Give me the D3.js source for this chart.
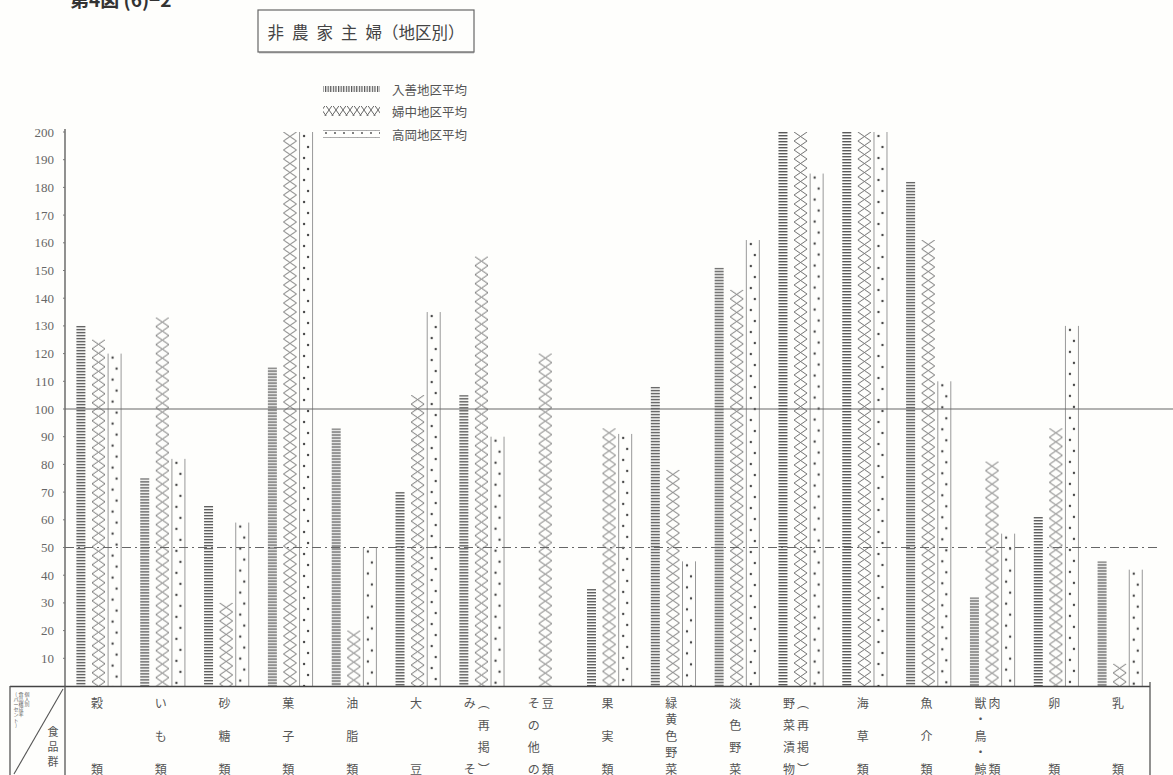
<!DOCTYPE html>
<html><head><meta charset="utf-8">
<script src="https://cdn.jsdelivr.net/npm/d3@7/dist/d3.min.js"></script>
<style>
html,body{margin:0;padding:0;background:#fefefc;}
svg{display:block;}
</style></head>
<body>
<svg id="chart" width="1173" height="775"></svg>
<script>
// ---------- data ----------
const categories = ["穀類","いも類","砂糖類","菓子類","油脂類","大豆","みそ(再掲)","その他の豆類","果実類","緑黄色野菜","淡色野菜","野菜漬物(再掲)","海草類","魚介類","獣肉・鳥・鯨類","卵類","乳類"];
const labelCols = [["穀類"],["いも類"],["砂糖類"],["菓子類"],["油脂類"],["大豆"],["みそ","︵再掲︶"],["その他の","豆類"],["果実類"],["緑黄色野菜"],["淡色野菜"],["野菜漬物","︵再掲︶"],["海草類"],["魚介類"],["獣・鳥・鯨","肉類"],["卵類"],["乳類"]];
const seriesNames = ["入善地区平均","婦中地区平均","高岡地区平均"];
const nyuzen  = [130, 75, 65, 115, 93, 70, 105, null, 35, 108, 151, 200, 200, 182, 32, 61, 45];
const fuchu   = [125, 133, 30, 200, 20, 105, 155, 120, 93, 78, 143, 200, 200, 161, 81, 93, 8];
const takaoka = [120, 82, 59, 200, 50, 135, 90, null, 91, 45, 161, 185, 200, 110, 55, 130, 42];
const yTicks = [10,20,30,40,50,60,70,80,90,100,110,120,130,140,150,160,170,180,190,200];
const titleMain = "非農家主";
const titleSub = "婦（地区別）";
const figLabel = "第4図 (6)−2";

// ---------- setup ----------
const svg = d3.select("#chart");
const PL = 65, PR = 1150, PT = 132, PB = 686;
const y = d3.scaleLinear().domain([0, 200]).range([PB, PT]);
const x0 = d3.scaleBand().domain(categories).range([PL, PR]);
const x1 = d3.scaleBand().domain(seriesNames).range([10, 57]).paddingInner(0.08);
const barW = [9, 15, 14];
const allSeries = [nyuzen, fuchu, takaoka];

const defs = svg.append("defs");
const pS = defs.append("pattern").attr("id","pStripe").attr("patternUnits","userSpaceOnUse").attr("width",20).attr("height",3);
pS.append("rect").attr("x",0).attr("y",0).attr("width",20).attr("height",1.4).attr("fill","#5a5a5a");
const pC = defs.append("pattern").attr("id","pCross").attr("patternUnits","userSpaceOnUse").attr("width",15).attr("height",9);
pC.append("path").attr("d","M1,0 Q7.5,4.5 14,9 M14,0 Q7.5,4.5 1,9").attr("stroke","#707070").attr("stroke-width",1).attr("fill","none");
const pD = defs.append("pattern").attr("id","pDot").attr("patternUnits","userSpaceOnUse").attr("width",14).attr("height",22);
pD.append("circle").attr("cx",5).attr("cy",4).attr("r",1.2).attr("fill","#444");
pD.append("circle").attr("cx",9).attr("cy",15).attr("r",1.2).attr("fill","#444");
const pV = defs.append("pattern").attr("id","pVert").attr("patternUnits","userSpaceOnUse").attr("width",2.6).attr("height",10);
pV.append("rect").attr("width",1.2).attr("height",10).attr("fill","#555");
const pCL = defs.append("pattern").attr("id","pCrossL").attr("patternUnits","userSpaceOnUse").attr("width",7).attr("height",10);
pCL.append("path").attr("d","M0,0 Q3.5,5 7,10 M0,10 Q3.5,5 7,0").attr("stroke","#666").attr("fill","none");
const pDL = defs.append("pattern").attr("id","pDotL").attr("patternUnits","userSpaceOnUse").attr("width",9).attr("height",8);
pDL.append("circle").attr("cx",2).attr("cy",5).attr("r",0.9).attr("fill","#444");
pDL.append("circle").attr("cx",6.5).attr("cy",2).attr("r",0.7).attr("fill","#666");
const fills = ["url(#pStripe)","url(#pCross)","url(#pDot)"];

// ---------- figure label & title ----------
svg.append("text").attr("x",70).attr("y",7).attr("font-family","Noto Sans CJK JP").attr("font-size",19)
  .attr("font-weight","bold").attr("fill","#333").text(figLabel);
svg.append("rect").attr("x",258).attr("y",10).attr("width",216).attr("height",42)
  .attr("fill","none").attr("stroke","#666").attr("stroke-width",1.2);
svg.append("line").attr("x1",259).attr("x2",474).attr("y1",52.5).attr("y2",52.5).attr("stroke","#888").attr("stroke-width",1.5);
const tt = svg.append("text").attr("x",366).attr("y",32).attr("text-anchor","middle").attr("dominant-baseline","central")
  .attr("font-family","Noto Sans CJK JP").attr("font-size",16.5).attr("fill","#444");
tt.append("tspan").attr("letter-spacing",8).text(titleMain);
tt.append("tspan").text(titleSub);

// ---------- legend ----------
const lg = svg.append("g");
const lgFills = ["url(#pVert)","url(#pCrossL)","url(#pDotL)"];
const lgY = [89, 111, 134];
seriesNames.forEach((s,i)=>{
  const h = i===0 ? 6 : (i===1 ? 10 : 7);
  lg.append("rect").attr("x",323).attr("y",lgY[i]-h/2).attr("width",57).attr("height",h).attr("fill",lgFills[i]);
  if(i===2){
    lg.append("line").attr("x1",323).attr("x2",380).attr("y1",lgY[i]-h/2).attr("y2",lgY[i]-h/2).attr("stroke","#999").attr("stroke-width",0.8);
    lg.append("line").attr("x1",323).attr("x2",380).attr("y1",lgY[i]+h/2).attr("y2",lgY[i]+h/2).attr("stroke","#999").attr("stroke-width",0.8);
  }
  lg.append("text").attr("x",392).attr("y",lgY[i]).attr("dominant-baseline","central")
    .attr("font-family","Noto Sans CJK JP").attr("font-size",12.5).attr("fill","#555").text(s);
});

// ---------- y axis ----------
svg.append("line").attr("x1",PL).attr("x2",PL).attr("y1",PT-3).attr("y2",PB).attr("stroke","#555").attr("stroke-width",1.3);
svg.append("g").selectAll("text").data(yTicks).join("text")
  .attr("x",54).attr("y",d=>y(d)).attr("text-anchor","end").attr("dominant-baseline","central")
  .attr("font-family","Liberation Serif").attr("font-size",13).attr("fill","#666").text(d=>d);
svg.append("g").selectAll("line").data(yTicks).join("line")
  .attr("x1",PL-2).attr("x2",PL).attr("y1",d=>y(d)).attr("y2",d=>y(d)).attr("stroke","#777");

// ---------- bars ----------
const bars = svg.append("g");
allSeries.forEach((vals,si)=>{
  categories.forEach((c,ci)=>{
    const v = vals[ci];
    if(v==null) return;
    const slot = x1(seriesNames[si]);
    const bx = x0(c) + slot + (x1.bandwidth() - barW[si]) / 2 + (si===0 ? -1.5 : 0);
    const vv = Math.min(v, 200);
    const g = bars.append("g").attr("transform",`translate(${bx},${y(vv)})`);
    g.append("rect").attr("x",0).attr("y",0).attr("width",barW[si]).attr("height",PB - y(vv)).attr("fill",fills[si]);
    if(si===2){
      g.append("line").attr("x1",0.5).attr("x2",0.5).attr("y1",0).attr("y2",PB-y(vv)).attr("stroke","#999").attr("stroke-width",1);
      g.append("line").attr("x1",barW[si]-0.5).attr("x2",barW[si]-0.5).attr("y1",0).attr("y2",PB-y(vv)).attr("stroke","#999").attr("stroke-width",1);
    }
  });
});

// ---------- reference lines ----------
svg.append("line").attr("x1",PL).attr("x2",1173).attr("y1",y(100)).attr("y2",y(100)).attr("stroke","#666").attr("stroke-width",1.2);
svg.append("line").attr("x1",PL).attr("x2",1160).attr("y1",y(50)).attr("y2",y(50)).attr("stroke","#666").attr("stroke-width",1.2)
  .attr("stroke-dasharray","9,4,2,4");

// ---------- bottom table ----------
const tb = svg.append("g");
tb.append("line").attr("x1",10).attr("x2",PR).attr("y1",PB+0.5).attr("y2",PB+0.5).attr("stroke","#444").attr("stroke-width",1.6);
tb.append("line").attr("x1",10).attr("x2",10).attr("y1",PB).attr("y2",775).attr("stroke","#555").attr("stroke-width",1.3);
tb.append("line").attr("x1",PL).attr("x2",PL).attr("y1",PB).attr("y2",775).attr("stroke","#555").attr("stroke-width",1.3);
tb.append("line").attr("x1",PR).attr("x2",PR).attr("y1",PB-4).attr("y2",775).attr("stroke","#555").attr("stroke-width",1.3);
tb.append("line").attr("x1",14).attr("x2",63).attr("y1",774).attr("y2",689).attr("stroke","#555").attr("stroke-width",1.1);
const small = [["(パーセント)",16],["食品構成率",21],["個人別",27]];
small.forEach(([t,cx])=>{
  Array.from(t).forEach((ch,k)=>{
    tb.append("text").attr("x",cx).attr("y",693 + k*5.2).attr("text-anchor","middle").attr("dominant-baseline","central")
      .attr("font-family","Noto Sans CJK JP").attr("font-size",5).attr("fill","#666").text(ch);
  });
});
Array.from("食品群").forEach((ch,k)=>{
  tb.append("text").attr("x",53).attr("y",731 + k*15).attr("text-anchor","middle").attr("dominant-baseline","central")
    .attr("font-family","Noto Sans CJK JP").attr("font-size",11).attr("fill","#555").text(ch);
});
categories.forEach((c,ci)=>{
  const cx = x0(c) + x0.bandwidth()/2;
  const cols = labelCols[ci];
  cols.forEach((col,j)=>{
    const colX = cols.length===1 ? cx : (j===0 ? cx-10 : cx+4);
    const chars = Array.from(col);
    const n = chars.length;
    chars.forEach((ch,k)=>{
      const yy = n===1 ? 702 : 702 + k*(66/(n-1));
      tb.append("text").attr("x",colX).attr("y",yy).attr("text-anchor","middle").attr("dominant-baseline","central")
        .attr("font-family","Noto Sans CJK JP").attr("font-size",12).attr("fill","#555").text(ch);
    });
  });
});
</script>
</body></html>
